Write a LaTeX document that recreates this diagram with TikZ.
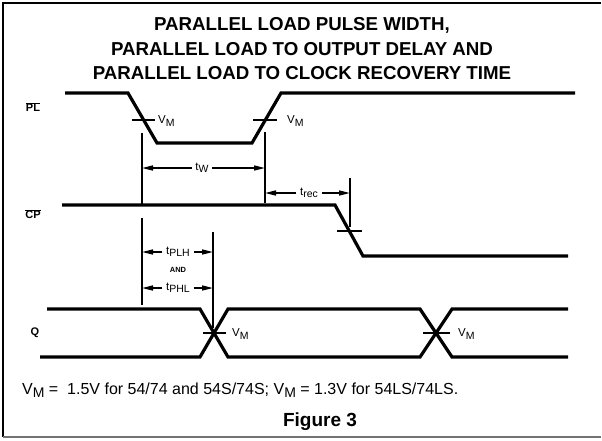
\documentclass[tikz,border=0pt]{standalone}
\usepackage{fontspec}
\setmainfont{Liberation Sans}
\usetikzlibrary{arrows.meta}
\newcommand{\sbs}[1]{\raisebox{-0.35ex}{\fontsize{10.5}{10.5}\selectfont #1}}
\newcommand{\fsbs}[1]{\raisebox{-0.4ex}{\fontsize{14}{14}\selectfont #1}}
\tikzset{
  sig/.style={line width=3.2pt, line join=miter},
  thinl/.style={line width=1.6pt},
  dimarr/.style={line width=1.4pt, -{Triangle[length=11pt,width=5pt]}},
  lab/.style={font=\fontsize{11.5}{11.5}\selectfont, inner sep=1pt},
  dimlab/.style={font=\fontsize{11.5}{11.5}\selectfont, inner sep=3.5pt},
  siglab/.style={font=\fontsize{11}{11}\selectfont\bfseries, inner sep=0pt},
}
\begin{document}
\begin{tikzpicture}[x=1pt,y=-1pt]
\useasboundingbox (0,0) rectangle (602,440);
% frame
\draw[line width=1.5pt] (601,3) -- (3,3) -- (3,437);
\draw[line width=1.5pt, black!55] (3,437) -- (601,437);
% title
\node[font=\fontsize{18.7}{24.5}\selectfont\bfseries, align=center] (title) at (302,49)
  {PARALLEL LOAD PULSE WIDTH,\\PARALLEL LOAD TO OUTPUT DELAY AND\\PARALLEL LOAD TO CLOCK RECOVERY TIME};
% signal labels
\node[siglab] (lpl) at (33,107) {$\overline{\mbox{PL}}$};
\node[siglab] (lcp) at (33,214) {$\overline{\mbox{CP}}$};
\node[siglab] (lq) at (35,333) {Q};
% PL waveform
\draw[sig] (65,93) -- (128,93) -- (157,143) -- (252,143) -- (281,93) -- (575,93);
\draw[thinl] (132,120) -- (155,120);
\draw[thinl] (253,120) -- (277,120);
\node[lab, anchor=west] (vm1) at (157,121) {V\sbs{M}};
\node[lab, anchor=west] (vm2) at (286,121) {V\sbs{M}};
% CP waveform
\draw[sig] (62,205) -- (335,205) -- (363,256) -- (568,256);
\draw[thinl] (337,231) -- (362,231);
% Q waveform
\draw[sig] (47,309) -- (200,309) -- (228,357) -- (420,357) -- (452,309) -- (568,309);
\draw[sig] (40,357) -- (200,357) -- (228,309) -- (420,309) -- (452,357) -- (568,357);
\draw[thinl] (203,333) -- (226,333);
\draw[thinl] (423,333) -- (450,333);
\node[lab, anchor=west] (vm3) at (231,334) {V\sbs{M}};
\node[lab, anchor=west] (vm4) at (457,334) {V\sbs{M}};
% vertical reference lines
\coordinate (a1) at (142,133);
\coordinate (a2) at (142,205);
\coordinate (a3) at (142,218);
\coordinate (a4) at (142,305);
\coordinate (b1) at (265,132);
\coordinate (b2) at (265,203);
\coordinate (c1) at (350,178);
\coordinate (c2) at (350,227);
\coordinate (d1) at (213,232);
\coordinate (d2) at (213,328);
\draw[thinl] (a1) -- (a2);
\draw[thinl] (a3) -- (a4);
\draw[thinl] (b1) -- (b2);
\draw[thinl] (c1) -- (c2);
\draw[thinl] (d1) -- (d2);
% tW
\node[dimlab] (tw) at (202,168) {t\sbs{W}};
\draw[dimarr] (tw.west) -- (tw.west -| a1);
\draw[dimarr] (tw.east) -- (tw.east -| b1);
% trec
\node[dimlab] (trec) at (309,193) {t\sbs{rec}};
\draw[dimarr] (trec.west) -- (trec.west -| b1);
\draw[dimarr] (trec.east) -- (trec.east -| c1);
% tPLH / AND / tPHL
\node[dimlab] (tplh) at (178,252) {t\sbs{PLH}};
\draw[dimarr] (tplh.west) -- (tplh.west -| a3);
\draw[dimarr] (tplh.east) -- (tplh.east -| d1);
\node[font=\fontsize{7.5}{7.5}\selectfont\bfseries, inner sep=0pt] (and) at (178,270) {AND};
\node[dimlab] (tphl) at (178,288) {t\sbs{PHL}};
\draw[dimarr] (tphl.west) -- (tphl.west -| a3);
\draw[dimarr] (tphl.east) -- (tphl.east -| d1);
% footnote
\node[font=\fontsize{16}{16}\selectfont, anchor=west, inner sep=0pt] (note) at (22,390)
  {V\fsbs{M} = \ 1.5V for 54/74 and 54S/74S; V\fsbs{M} = 1.3V for 54LS/74LS.};
\node[font=\fontsize{19}{19}\selectfont\bfseries, inner sep=0pt] (fig) at (320,422) {Figure 3};
\end{tikzpicture}
\end{document}
